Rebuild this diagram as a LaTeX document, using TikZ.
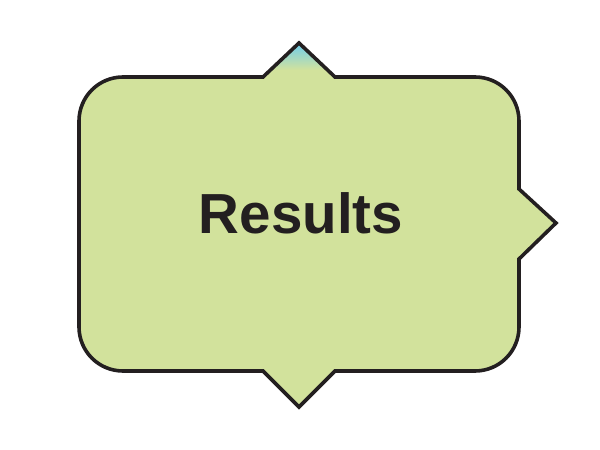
\documentclass[tikz,border=0pt]{standalone}
\usepackage{fontspec}
\setmainfont{Liberation Sans}
\definecolor{boxgreen}{RGB}{210,226,156}
\definecolor{tipblue}{RGB}{118,206,230}
\definecolor{edge}{RGB}{35,31,32}
\tikzset{outline/.style={draw=edge,line width=3.6pt,line join=miter},
  title/.style={font=\fontsize{56.5}{60}\selectfont\bfseries,text=edge}}
\begin{document}
\begin{tikzpicture}[x=1pt,y=1pt]
\useasboundingbox (0,0) rectangle (600,450);
\def\shapepath{(123,373) -- (263,373) -- (299,407) -- (335,373) -- (475,373)
  arc[start angle=90,end angle=0,radius=44] -- (519,261) -- (556,227) -- (519,191)
  -- (519,123) arc[start angle=0,end angle=-90,radius=44] -- (335,79) -- (299,43)
  -- (263,79) -- (123,79) arc[start angle=270,end angle=180,radius=44]
  -- (79,329) arc[start angle=180,end angle=90,radius=44] -- cycle}
\fill[boxgreen] \shapepath;
\begin{scope}
\clip (263,373) -- (299,407) -- (335,373) -- cycle;
\shade[top color=tipblue,bottom color=boxgreen] (255,380) rectangle (345,405);
\end{scope}
\draw[outline] \shapepath;
\node[title] (res) at (301,237) {Results};
\end{tikzpicture}
\end{document}
